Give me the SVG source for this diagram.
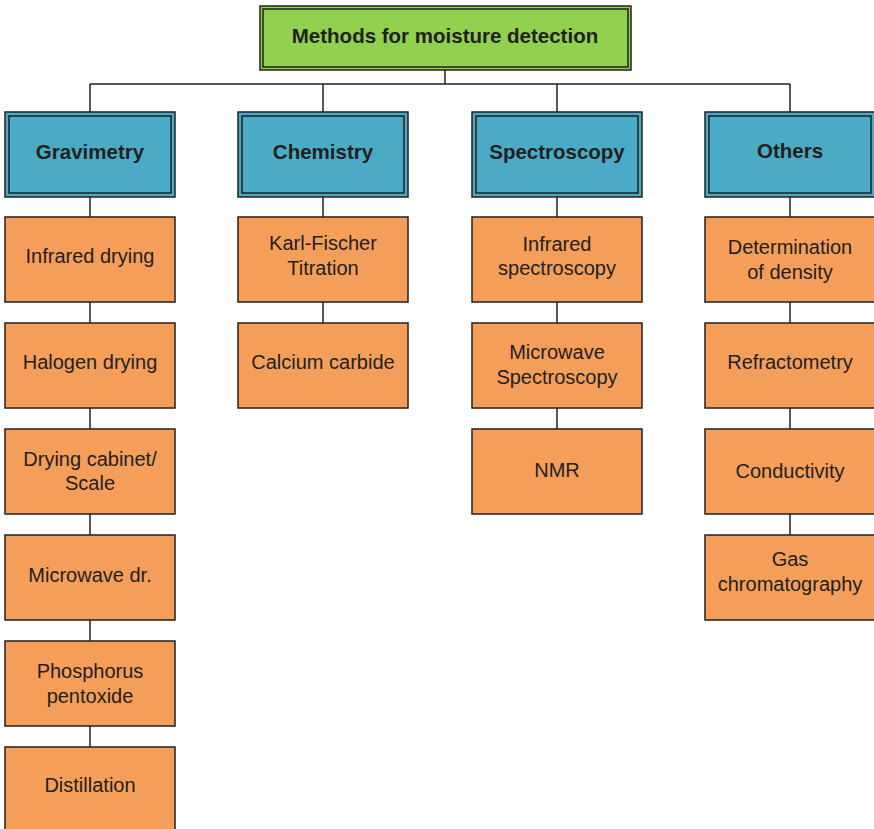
<svg xmlns="http://www.w3.org/2000/svg" width="874" height="829" viewBox="0 0 874 829">
  <style>
    .txt { font-family: "Liberation Sans", Arial, sans-serif; fill: #231f20; text-anchor: middle; }
    .title { font-size: 20.5px; font-weight: bold; }
    .cat { font-size: 20.5px; font-weight: bold; }
    .leaf { font-size: 20px; }
    .root-box { fill: #92d050; stroke: #231f20; stroke-width: 1.5; }
    .cat-box { fill: #4babc6; stroke: #231f20; stroke-width: 1.5; }
    .inner { fill: none; stroke: #231f20; stroke-width: 1.5; }
    .leaf-box { fill: #f59e5a; stroke: #231f20; stroke-width: 1.5; }
    .conn { stroke: #231f20; stroke-width: 1.5; fill: none; }
  </style>

  <g id="connectors">
    <line class="conn" x1="445" y1="70" x2="445" y2="84" stroke-width="2.5"/>
    <line class="conn" x1="90" y1="84" x2="790" y2="84"/>
    <line class="conn" x1="90" y1="84" x2="90" y2="112"/>
    <line class="conn" x1="323" y1="84" x2="323" y2="112"/>
    <line class="conn" x1="557" y1="84" x2="557" y2="112"/>
    <line class="conn" x1="790" y1="84" x2="790" y2="112"/>
    <!-- Gravimetry column -->
    <line class="conn" x1="90" y1="197" x2="90" y2="747"/>
    <!-- Chemistry column -->
    <line class="conn" x1="323" y1="197" x2="323" y2="323"/>
    <!-- Spectroscopy column -->
    <line class="conn" x1="557" y1="197" x2="557" y2="429"/>
    <!-- Others column -->
    <line class="conn" x1="790" y1="197" x2="790" y2="535"/>
  </g>

  <g id="root">
    <rect class="root-box" x="260" y="6" width="371" height="64"/>
    <rect class="inner" x="263" y="9" width="365" height="58"/>
    <text class="txt title" x="445" y="43">Methods for moisture detection</text>
  </g>

  <g id="gravimetry">
    <rect class="cat-box" x="5" y="112" width="170" height="85"/>
    <rect class="inner" x="9" y="116" width="162" height="77"/>
    <text class="txt cat" x="90" y="159">Gravimetry</text>
  </g>
  <g id="chemistry">
    <rect class="cat-box" x="238" y="112" width="170" height="85"/>
    <rect class="inner" x="242" y="116" width="162" height="77"/>
    <text class="txt cat" x="323" y="159">Chemistry</text>
  </g>
  <g id="spectroscopy">
    <rect class="cat-box" x="472" y="112" width="170" height="85"/>
    <rect class="inner" x="476" y="116" width="162" height="77"/>
    <text class="txt cat" x="557" y="159">Spectroscopy</text>
  </g>
  <g id="others">
    <rect class="cat-box" x="705" y="112" width="170" height="85"/>
    <rect class="inner" x="709" y="116" width="162" height="77"/>
    <text class="txt cat" x="790" y="158">Others</text>
  </g>

  <!-- Gravimetry methods -->
  <g id="infrared-drying">
    <rect class="leaf-box" x="5" y="217" width="170" height="85"/>
    <text class="txt leaf" x="90" y="263">Infrared drying</text>
  </g>
  <g id="halogen-drying">
    <rect class="leaf-box" x="5" y="323" width="170" height="85"/>
    <text class="txt leaf" x="90" y="369">Halogen drying</text>
  </g>
  <g id="drying-cabinet">
    <rect class="leaf-box" x="5" y="429" width="170" height="85"/>
    <text class="txt leaf" x="90" y="466">Drying cabinet/</text>
    <text class="txt leaf" x="90" y="490">Scale</text>
  </g>
  <g id="microwave-drying">
    <rect class="leaf-box" x="5" y="535" width="170" height="85"/>
    <text class="txt leaf" x="90" y="582">Microwave dr.</text>
  </g>
  <g id="phosphorus-pentoxide">
    <rect class="leaf-box" x="5" y="641" width="170" height="85"/>
    <text class="txt leaf" x="90" y="678">Phosphorus</text>
    <text class="txt leaf" x="90" y="703">pentoxide</text>
  </g>
  <g id="distillation">
    <rect class="leaf-box" x="5" y="747" width="170" height="85"/>
    <text class="txt leaf" x="90" y="792">Distillation</text>
  </g>

  <!-- Chemistry methods -->
  <g id="karl-fischer">
    <rect class="leaf-box" x="238" y="217" width="170" height="85"/>
    <text class="txt leaf" x="323" y="250">Karl-Fischer</text>
    <text class="txt leaf" x="323" y="275">Titration</text>
  </g>
  <g id="calcium-carbide">
    <rect class="leaf-box" x="238" y="323" width="170" height="85"/>
    <text class="txt leaf" x="323" y="369">Calcium carbide</text>
  </g>

  <!-- Spectroscopy methods -->
  <g id="infrared-spectroscopy">
    <rect class="leaf-box" x="472" y="217" width="170" height="85"/>
    <text class="txt leaf" x="557" y="251">Infrared</text>
    <text class="txt leaf" x="557" y="275">spectroscopy</text>
  </g>
  <g id="microwave-spectroscopy">
    <rect class="leaf-box" x="472" y="323" width="170" height="85"/>
    <text class="txt leaf" x="557" y="359">Microwave</text>
    <text class="txt leaf" x="557" y="384">Spectroscopy</text>
  </g>
  <g id="nmr">
    <rect class="leaf-box" x="472" y="429" width="170" height="85"/>
    <text class="txt leaf" x="557" y="477">NMR</text>
  </g>

  <!-- Other methods -->
  <g id="density">
    <rect class="leaf-box" x="705" y="217" width="170" height="85"/>
    <text class="txt leaf" x="790" y="254">Determination</text>
    <text class="txt leaf" x="790" y="279">of density</text>
  </g>
  <g id="refractometry">
    <rect class="leaf-box" x="705" y="323" width="170" height="85"/>
    <text class="txt leaf" x="790" y="369">Refractometry</text>
  </g>
  <g id="conductivity">
    <rect class="leaf-box" x="705" y="429" width="170" height="85"/>
    <text class="txt leaf" x="790" y="478">Conductivity</text>
  </g>
  <g id="gas-chromatography">
    <rect class="leaf-box" x="705" y="535" width="170" height="85"/>
    <text class="txt leaf" x="790" y="566">Gas</text>
    <text class="txt leaf" x="790" y="591">chromatography</text>
  </g>
</svg>
